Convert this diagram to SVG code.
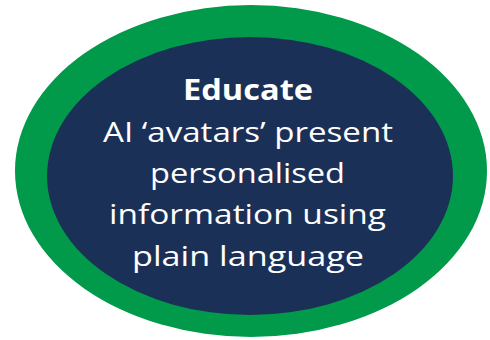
<svg xmlns="http://www.w3.org/2000/svg" width="490" height="340" viewBox="0 0 490 340">
<style>
.t{font-family:"Open Sans","Liberation Sans",sans-serif;fill:#ffffff;text-anchor:middle;font-size:28px}
.b{font-weight:bold}
</style>
<rect width="490" height="340" fill="#ffffff"/>
<g id="outer">
<ellipse cx="251" cy="171" rx="236" ry="166" fill="#009a4a"/>
</g>
<g id="inner">
<ellipse cx="250" cy="176" rx="203" ry="139" fill="#1b3057"/>
<text class="t b" x="248" y="100" textLength="130" lengthAdjust="spacingAndGlyphs">Educate</text>
<text class="t" x="248" y="142" textLength="290" lengthAdjust="spacingAndGlyphs">AI ‘avatars’ present</text>
<text class="t" x="247.5" y="183" textLength="195" lengthAdjust="spacingAndGlyphs">personalised</text>
<text class="t" x="247.5" y="224" textLength="277" lengthAdjust="spacingAndGlyphs">information using</text>
<text class="t" x="248" y="266" textLength="232" lengthAdjust="spacingAndGlyphs">plain language</text>
</g>
</svg>
